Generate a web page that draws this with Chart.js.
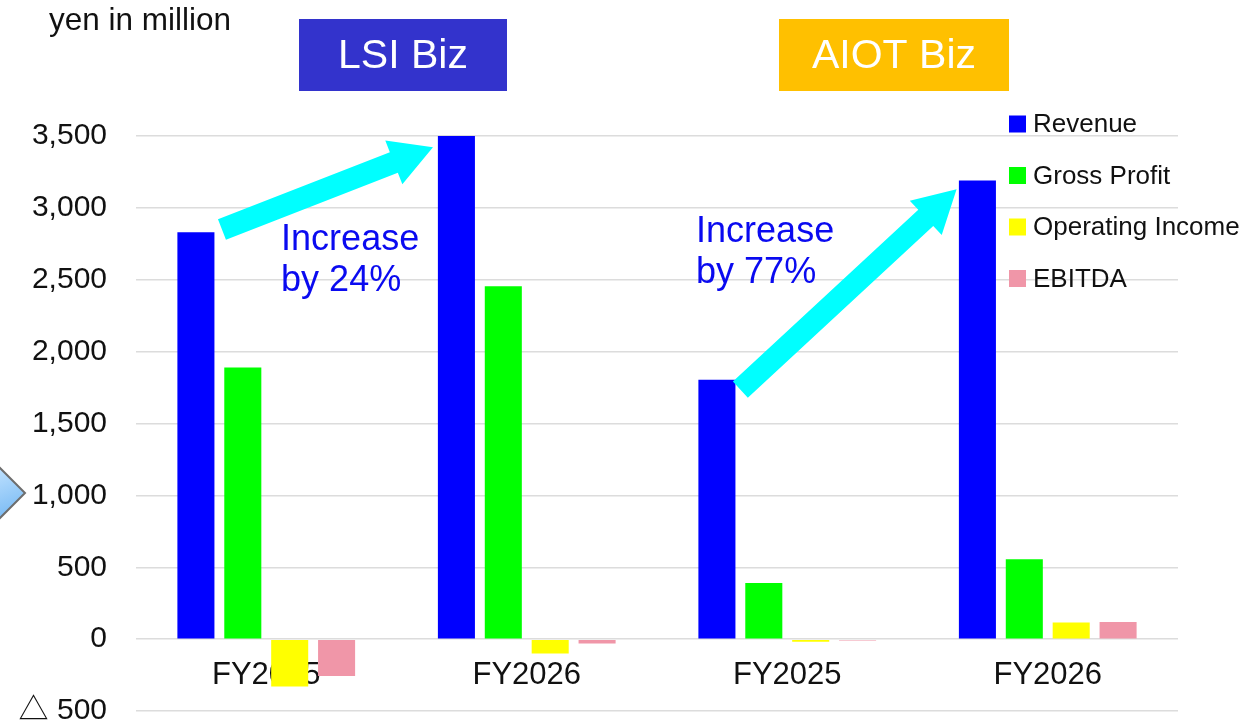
<!DOCTYPE html>
<html>
<head>
<meta charset="utf-8">
<script src="https://cdn.jsdelivr.net/npm/chart.js@4.4.1/dist/chart.umd.min.js"></script>
<style>
    html, body { margin: 0; padding: 0; background: #ffffff; }
    #wrap { position: relative; width: 1260px; height: 721px; }
</style>
</head>
<body>
<div id="wrap"><canvas id="bizChart" width="1260" height="721"></canvas></div>
<script>
// --- DATA (yen in million) ---
const categories = ['FY2025', 'FY2026', 'FY2025', 'FY2026'];
const revenue = [2830, 3500, 1805, 3190];
const grossProfit = [1890, 2455, 390, 555];
const operatingIncome = [-330, -100, -18, 116];
const ebitda = [-256, -30, -10, 120];
const seriesNames = ['Revenue', 'Gross Profit', 'Operating Income', 'EBITDA'];
const yTickValues = [-500, 0, 500, 1000, 1500, 2000, 2500, 3000, 3500];

// segment headers and growth call-outs
const segmentNames = ['LSI Biz', 'AIOT Biz'];
const growthLabels = [['Increase', 'by 24%'], ['Increase', 'by 77%']];

// --- STYLE ---
const seriesColors = ['#0000FF', '#00FF00', '#FFFF00', '#F096A8'];
const segmentColors = ['#3333CC', '#FFC000'];
const FONT = "'Liberation Sans', Arial, 'DejaVu Sans', sans-serif";
const TICK_FONT = "'Liberation Sans', Arial, 'Noto Sans CJK JP', sans-serif";

// arrows given as [category index, value] pairs
const arrowAnchors = [
    { from: [-0.17, 2850], to: [0.64, 3422] },
    { from: [1.82, 1736], to: [2.65, 3129] }
];
const noteAnchors = [[0.057, 2704], [1.65, 2762]];
const headerBoxes = [
    { x: 299, y: 19, w: 208, h: 72 },
    { x: 779, y: 19, w: 230, h: 72 }
];

function formatTick(v) {
    // negative numbers are written with a white triangle (Japanese style)
    if (v < 0) return '\u25B3 ' + Math.abs(v).toLocaleString('en-US');
    return v.toLocaleString('en-US');
}

function drawArrow(ctx, x1, y1, x2, y2) {
    const ang = Math.atan2(y2 - y1, x2 - x1);
    const len = Math.hypot(x2 - x1, y2 - y1);
    const shaft = 11, head = 23.5, headLen = 42;
    ctx.save();
    ctx.translate(x1, y1);
    ctx.rotate(ang);
    ctx.beginPath();
    ctx.moveTo(0, -shaft);
    ctx.lineTo(len - headLen, -shaft);
    ctx.lineTo(len - headLen, -head);
    ctx.lineTo(len, 0);
    ctx.lineTo(len - headLen, head);
    ctx.lineTo(len - headLen, shaft);
    ctx.lineTo(0, shaft);
    ctx.closePath();
    ctx.fillStyle = '#00FFFF';
    ctx.fill();
    ctx.restore();
}

/* --- OVERLAY: arrows, notes, legend, headers --- */
const overlayPlugin = {
    id: 'overlay',
    afterDatasetsDraw(chart) {
        const ctx = chart.ctx;
        const xs = chart.scales.x;
        const ys = chart.scales.y;

        // growth arrows
        arrowAnchors.forEach(a => {
            drawArrow(ctx,
                xs.getPixelForValue(a.from[0]), ys.getPixelForValue(a.from[1]),
                xs.getPixelForValue(a.to[0]), ys.getPixelForValue(a.to[1]));
        });

        // growth notes
        ctx.save();
        ctx.fillStyle = '#0A0AF0';
        ctx.font = '36px ' + FONT;
        ctx.textAlign = 'left';
        ctx.textBaseline = 'alphabetic';
        noteAnchors.forEach((p, i) => {
            const px = xs.getPixelForValue(p[0]);
            const py = ys.getPixelForValue(p[1]);
            growthLabels[i].forEach((line, j) => ctx.fillText(line, px, py + j * 41));
        });
        ctx.restore();

        // legend
        ctx.save();
        ctx.font = '26px ' + FONT;
        ctx.textBaseline = 'middle';
        ctx.textAlign = 'left';
        chart.data.datasets.forEach((ds, i) => {
            const cy = 124 + i * 51.5;
            ctx.fillStyle = ds.backgroundColor;
            ctx.fillRect(1009, cy - 8.5, 17, 17);
            ctx.fillStyle = '#111111';
            ctx.fillText(ds.label, 1033, cy + 1);
        });
        ctx.restore();

        // segment header boxes
        ctx.save();
        ctx.font = '41px ' + FONT;
        ctx.textAlign = 'center';
        ctx.textBaseline = 'middle';
        headerBoxes.forEach((b, i) => {
            ctx.fillStyle = segmentColors[i];
            ctx.fillRect(b.x, b.y, b.w, b.h);
            ctx.fillStyle = '#ffffff';
            ctx.fillText(segmentNames[i], b.x + b.w / 2, b.y + b.h / 2 + 2);
        });
        ctx.restore();

        // unit label
        ctx.save();
        ctx.font = '31.5px ' + FONT;
        ctx.fillStyle = '#111111';
        ctx.textAlign = 'left';
        ctx.textBaseline = 'alphabetic';
        ctx.fillText('yen in million', 49, 30);
        ctx.restore();

        // partial chevron at left edge (cut off slide shape)
        ctx.save();
        const g = ctx.createLinearGradient(0, 463, 25, 523);
        g.addColorStop(0, '#C4E4FF');
        g.addColorStop(1, '#6AB2F2');
        ctx.beginPath();
        ctx.moveTo(-5, 463);
        ctx.lineTo(25, 493);
        ctx.lineTo(-5, 523);
        ctx.closePath();
        ctx.fillStyle = g;
        ctx.fill();
        ctx.strokeStyle = '#6E6E6E';
        ctx.lineWidth = 2;
        ctx.stroke();
        ctx.restore();
    }
};

const datasetValues = [revenue, grossProfit, operatingIncome, ebitda];

const ctx = document.getElementById('bizChart').getContext('2d');
const bizChart = new Chart(ctx, {
    type: 'bar',
    data: {
        labels: categories,
        datasets: seriesNames.map((name, i) => ({
            label: name,
            data: datasetValues[i],
            backgroundColor: seriesColors[i],
            borderWidth: 0,
            categoryPercentage: 0.72,
            barPercentage: 0.79
        }))
    },
    options: {
        responsive: false,
        animation: false,
        devicePixelRatio: 1,
        layout: {
            padding: { left: 0, right: 82, top: 136, bottom: 10 }
        },
        plugins: {
            legend: { display: false },
            tooltip: { enabled: false }
        },
        scales: {
            x: {
                position: { y: 0 },
                afterFit: (scale) => {
                    scale.height = 0;
                },
                grid: { display: false, drawTicks: false },
                border: { display: false },
                ticks: {
                    color: '#111111',
                    font: { family: FONT, size: 31 },
                    padding: 18,
                    maxRotation: 0,
                    autoSkip: false
                }
            },
            y: {
                min: -500,
                max: 3500,
                afterBuildTicks: (scale) => {
                    scale.ticks = yTickValues.map(v => ({ value: v }));
                },
                afterFit: (scale) => {
                    // fixed axis width; let end labels overflow into the outer padding
                    scale.width = 136;
                    scale.paddingTop = 0;
                    scale.paddingBottom = 0;
                },
                grid: { color: '#DCDCDC', lineWidth: 1.5, drawTicks: false },
                border: { display: false },
                ticks: {
                    color: '#111111',
                    font: { family: TICK_FONT, size: 30 },
                    padding: 29,
                    callback: (v) => formatTick(v)
                }
            }
        }
    },
    plugins: [overlayPlugin]
});
</script>
</body>
</html>
